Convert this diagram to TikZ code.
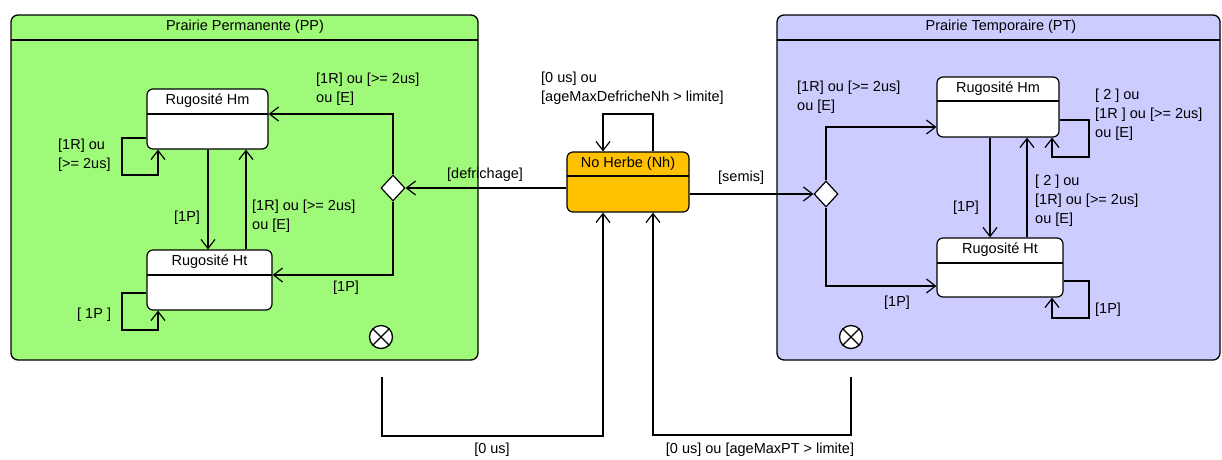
\documentclass[tikz,border=0pt]{standalone}
\usepackage{fontspec}
\setmainfont{Liberation Sans}
\usetikzlibrary{arrows.meta,shapes.geometric}
\definecolor{ppgreen}{RGB}{160,250,122}
\definecolor{ptblue}{RGB}{204,204,255}
\definecolor{nhorange}{RGB}{255,192,0}
\tikzset{
  container/.style={draw, line width=1.3pt, rounded corners=7pt, inner sep=0pt},
  statebox/.style={draw, line width=1.2pt, rounded corners=6pt, fill=white, inner sep=0pt},
  title/.style={inner sep=0pt, font=\fontsize{14.5}{19}\selectfont},
  lbl/.style={inner sep=0pt, align=left, anchor=north west, font=\fontsize{14.5}{19}\selectfont},
  tr/.style={line width=1.2pt, -{Straight Barb[length=9pt,width=14pt,line width=1.2pt]}},
  ln/.style={line width=1.2pt},
  choice/.style={diamond, draw, fill=white, line width=1.2pt, minimum width=24pt, minimum height=26pt, inner sep=0pt},
  final/.style={circle, draw, fill=white, line width=1.3pt, minimum size=23pt, inner sep=0pt}
}
\begin{document}
\begin{tikzpicture}[x=1pt,y=-1pt]
\useasboundingbox (0,0) rectangle (1222,459);
% containers
\node[container, fill=ppgreen, minimum width=467pt, minimum height=345pt] (pp) at (244.5,187.5) {};
\draw[ln] (11,40) -- (478,40);
\node[title] (ppT) at (245,27) {Prairie Permanente (PP)};
\node[container, fill=ptblue, minimum width=443pt, minimum height=345pt] (pt) at (998.5,187.5) {};
\draw[ln] (777,40) -- (1220,40);
\node[title] (ptT) at (1001,27) {Prairie Temporaire (PT)};
% PP states
\node[statebox, minimum width=121pt, minimum height=60pt] (ppHm) at (207.5,119) {};
\draw[ln] (147,114) -- (268,114);
\node[title] (ppHmT) at (207.5,101) {Rugosité Hm};
\node[statebox, minimum width=125pt, minimum height=60pt] (ppHt) at (209.5,280) {};
\draw[ln] (147,275) -- (272,275);
\node[title] (ppHtT) at (209.5,262) {Rugosité Ht};
\node[choice] (ppD) at (393,188) {};
\node[final] (ppF) at (381,337) {};
\draw[ln] (ppF.north east) -- (ppF.south west) (ppF.north west) -- (ppF.south east);
% PT states
\node[statebox, minimum width=122pt, minimum height=60pt] (ptHm) at (998,107) {};
\draw[ln] (937,101) -- (1059,101);
\node[title] (ptHmT) at (998,89) {Rugosité Hm};
\node[statebox, minimum width=126pt, minimum height=59pt] (ptHt) at (1000,267.5) {};
\draw[ln] (937,263) -- (1063,263);
\node[title] (ptHtT) at (1000,250) {Rugosité Ht};
\node[choice] (ptD) at (826,194) {};
\node[final] (ptF) at (851,337) {};
\draw[ln] (ptF.north east) -- (ptF.south west) (ptF.north west) -- (ptF.south east);
% No Herbe
\node[statebox, fill=nhorange, minimum width=122pt, minimum height=60pt] (nh) at (628,182) {};
\draw[ln] (567,176) -- (689,176);
\node[title] (nhT) at (628,164) {No Herbe (Nh)};
% PP transitions
\draw[tr] (ppHm.south -| 208,0) -- (ppHt.north -| 208,0);
\draw[tr] (ppHt.north -| 246,0) -- (ppHm.south -| 246,0);
\draw[tr] (ppHm.west |- 0,138) -- (122,138) -- (122,175) -- (158,175) -- (ppHm.south -| 158,0);
\draw[tr] (ppHt.west |- 0,293) -- (122,293) -- (122,330) -- (158,330) -- (ppHt.south -| 158,0);
\draw[tr] (ppD.north) -- (393,114) -- (ppHm.east |- 0,114);
\draw[tr] (ppD.south) -- (393,275) -- (ppHt.east |- 0,275);
\draw[tr] (nh.west |- 0,188) -- (ppD.east);
% Nh loop
\draw[tr] (nh.north -| 653,0) -- (653,114) -- (603,114) -- (nh.north -| 603,0);
% semis
\draw[tr] (nh.east |- 0,194) -- (ptD.west);
% PT transitions
\draw[tr] (ptD.north) -- (826,127) -- (ptHm.west |- 0,127);
\draw[tr] (ptD.south) -- (826,286) -- (ptHt.west |- 0,286);
\draw[tr] (ptHm.south -| 990,0) -- (ptHt.north -| 990,0);
\draw[tr] (ptHt.north -| 1027,0) -- (ptHm.south -| 1027,0);
\draw[tr] (ptHm.east |- 0,120) -- (1089,120) -- (1089,157) -- (1052,157) -- (ptHm.south -| 1052,0);
\draw[tr] (ptHt.east |- 0,281) -- (1089,281) -- (1089,318) -- (1052,318) -- (ptHt.south -| 1052,0);
% bottom returns
\coordinate (ppOut) at (382,377);
\coordinate (ptOut) at (851,377);
\draw[tr] (ppOut) -- (382,436) -- (603,436) -- (nh.south -| 603,0);
\draw[tr] (ptOut) -- (851,435) -- (653,435) -- (nh.south -| 653,0);
% labels
\node[lbl] (l1) at (58,139) {[1R] ou\\{}[>= 2us]};
\node[lbl] (l2) at (77,308) {[ 1P ]};
\node[lbl] (l3) at (174,211) {[1P]};
\node[lbl] (l4) at (252,200) {[1R] ou [>= 2us]\\ou [E]};
\node[lbl] (l5) at (316,73) {[1R] ou [>= 2us]\\ou [E]};
\node[lbl] (l6) at (333,281) {[1P]};
\node[lbl] (l7) at (447,168) {[defrichage]};
\node[lbl] (l8) at (541,72) {[0 us] ou\\{}[ageMaxDefricheNh > limite]};
\node[lbl] (l9) at (718,171) {[semis]};
\node[lbl] (l10) at (797,81) {[1R] ou [>= 2us]\\ou [E]};
\node[lbl] (l11) at (884,296) {[1P]};
\node[lbl] (l12) at (953,201) {[1P]};
\node[lbl] (l13) at (1035,175) {[ 2 ] ou\\{}[1R] ou [>= 2us]\\ou [E]};
\node[lbl] (l14) at (1095,89) {[ 2 ] ou\\{}[1R ] ou [>= 2us]\\ou [E]};
\node[lbl] (l15) at (1095,303) {[1P]};
\node[title] (l16) at (492,450) {[0 us]};
\node[title] (l17) at (760,450) {[0 us] ou [ageMaxPT > limite]};
\end{tikzpicture}
\end{document}
